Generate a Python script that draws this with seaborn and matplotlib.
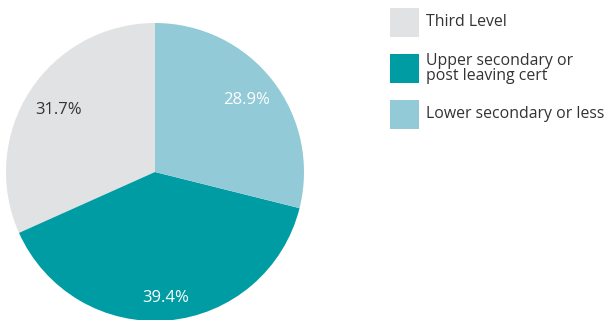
import numpy as np
import matplotlib
matplotlib.use("Agg")
import matplotlib.pyplot as plt
from matplotlib.patches import Rectangle
import seaborn as sns

categories = ["Third Level", "Upper secondary or\npost leaving cert", "Lower secondary or less"]
shares = [31.7, 39.4, 28.9]
colors = ["#E1E2E4", "#009CA3", "#92CAD7"]
label_colors = ["#333333", "white", "white"]
label_radius = [0.77, 0.85, 0.78]

sns.set_theme(style="white")
plt.rcParams["font.family"] = ["Open Sans", "DejaVu Sans"]

fig = plt.figure(figsize=(6.07, 3.2), dpi=100)
W, H = 607, 320
cx, cy, r = 155, 172, 149
ax = fig.add_axes([(cx - r) / W, (H - cy - r) / H, 2 * r / W, 2 * r / H])

wedges, _ = ax.pie(shares, colors=colors, startangle=90, counterclock=True,
                   radius=1.0, wedgeprops=dict(linewidth=0))
for w, v, c, d in zip(wedges, shares, label_colors, label_radius):
    mid = np.deg2rad((w.theta1 + w.theta2) / 2)
    ax.text(d * np.cos(mid), d * np.sin(mid), f"{v:.1f}%", ha="center", va="center",
            color=c, fontsize=12)
ax.set_xlim(-1, 1)
ax.set_ylim(-1, 1)
ax.set_aspect("auto")
ax.axis("off")

# legend: swatches and labels on the right
sw = 29
tops = [8, 54, 100]
for top, cat, col in zip(tops, categories, colors):
    fig.patches.append(Rectangle((390 / W, (H - top - sw) / H), sw / W, sw / H,
                                 transform=fig.transFigure, facecolor=col,
                                 edgecolor="none"))
    fig.text(426 / W, (H - top - sw / 2) / H, cat, ha="left", va="center",
             fontsize=11.4, color="#333333", linespacing=0.95)

fig.savefig("out.png", dpi=100)
